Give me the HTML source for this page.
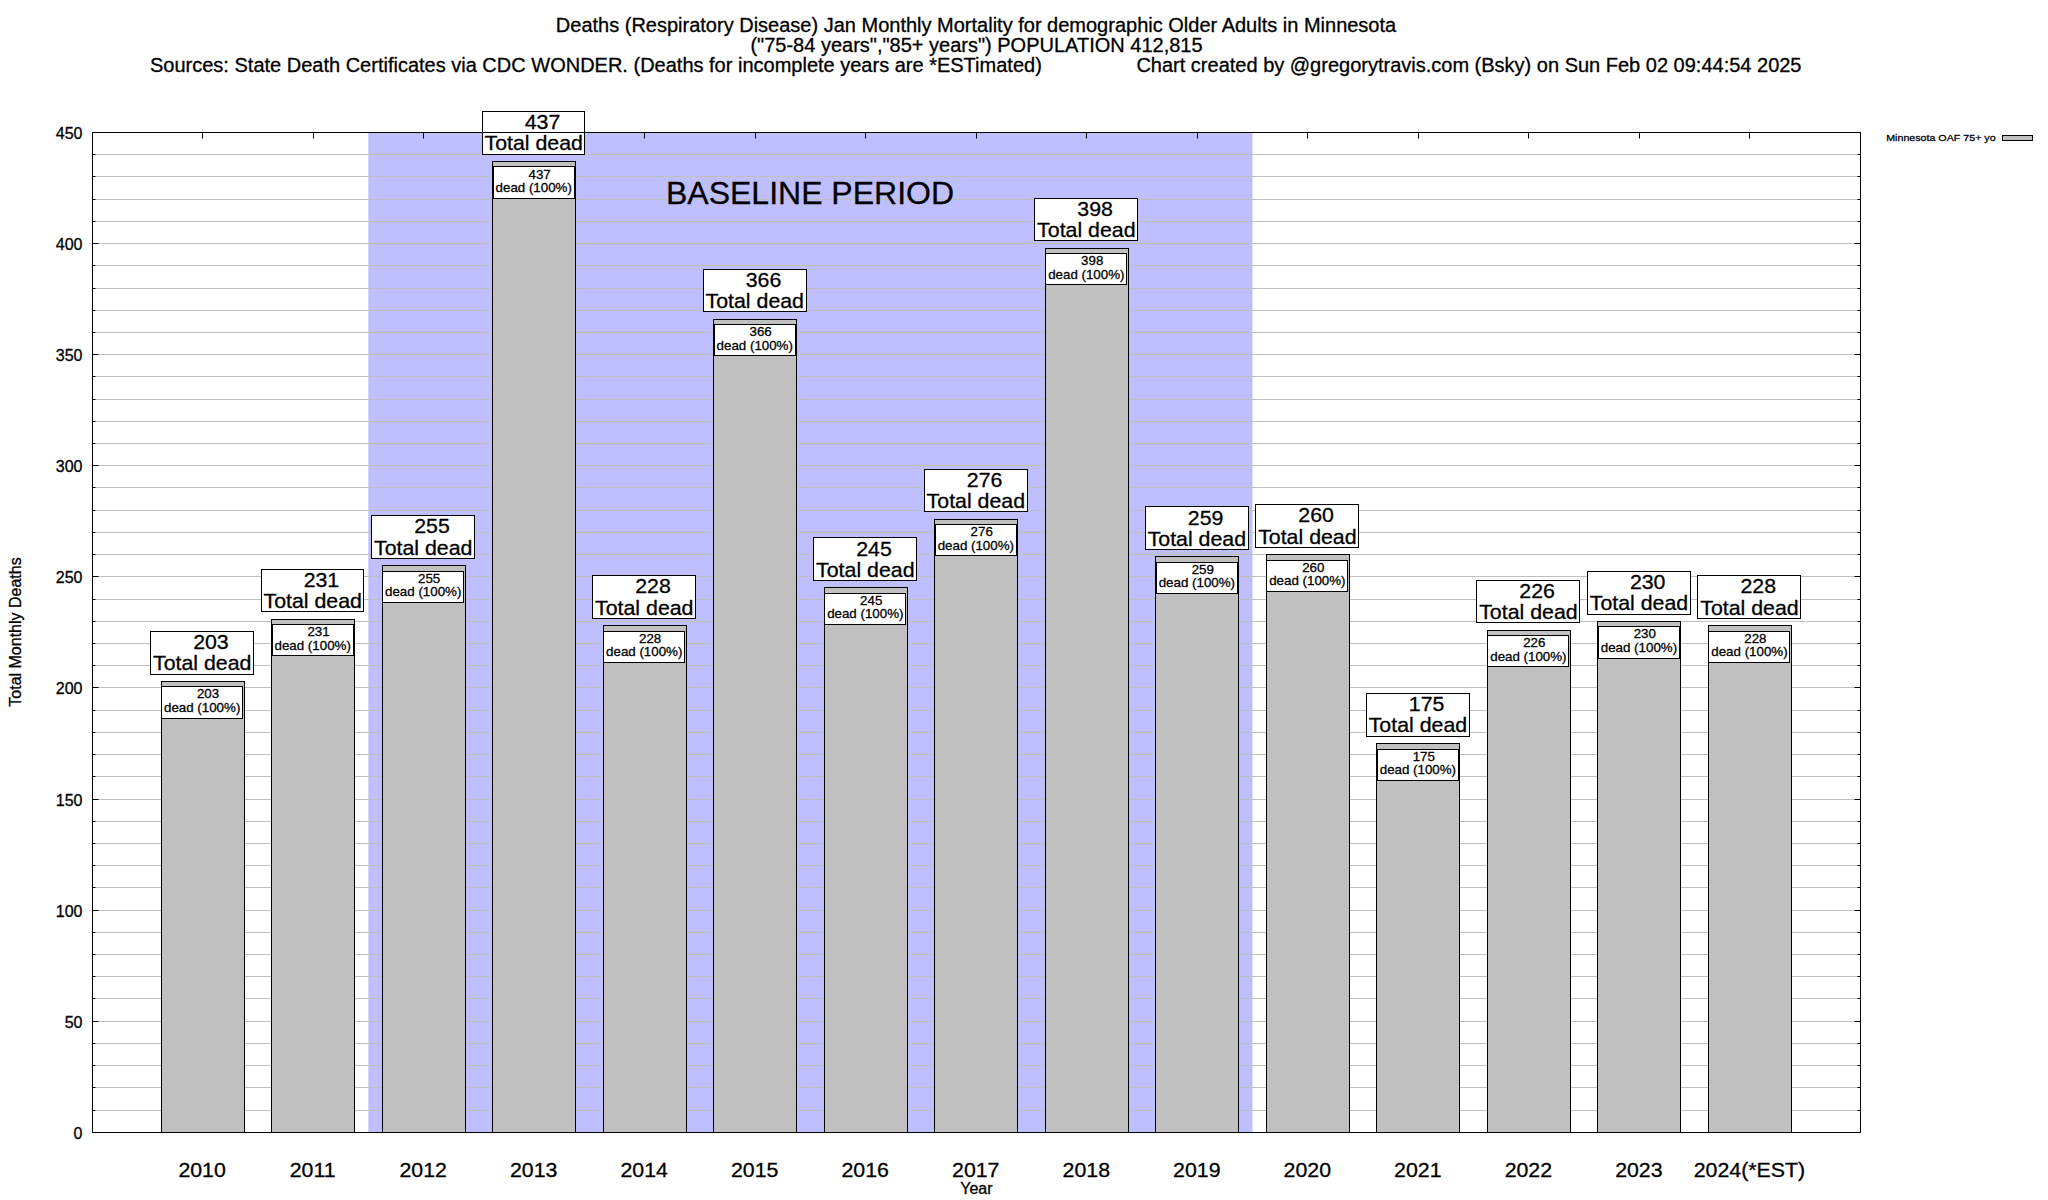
<!DOCTYPE html>
<html><head><meta charset="utf-8"><title>Deaths (Respiratory Disease) Jan Monthly Mortality</title>
<style>html,body{margin:0;padding:0;background:#fff;}body{width:2048px;height:1200px;overflow:hidden;}svg{display:block;}text{font-family:"Liberation Sans",Arial,Helvetica,sans-serif;fill:#000;stroke:#000;stroke-width:0.3px;stroke-linejoin:round;}</style></head><body>
<svg width="2048" height="1200" viewBox="0 0 2048 1200">
<rect x="0" y="0" width="2048" height="1200" fill="#fff"/>
<rect x="368.3" y="132.5" width="884.2" height="1000.0" fill="#bfbffe"/>
<path d="M92.5 1110.5H1860.5 M92.5 1087.5H1860.5 M92.5 1065.5H1860.5 M92.5 1043.5H1860.5 M92.5 1021.5H1860.5 M92.5 998.5H1860.5 M92.5 976.5H1860.5 M92.5 954.5H1860.5 M92.5 932.5H1860.5 M92.5 910.5H1860.5 M92.5 887.5H1860.5 M92.5 865.5H1860.5 M92.5 843.5H1860.5 M92.5 821.5H1860.5 M92.5 799.5H1860.5 M92.5 776.5H1860.5 M92.5 754.5H1860.5 M92.5 732.5H1860.5 M92.5 710.5H1860.5 M92.5 687.5H1860.5 M92.5 665.5H1860.5 M92.5 643.5H1860.5 M92.5 621.5H1860.5 M92.5 599.5H1860.5 M92.5 576.5H1860.5 M92.5 554.5H1860.5 M92.5 532.5H1860.5 M92.5 510.5H1860.5 M92.5 487.5H1860.5 M92.5 465.5H1860.5 M92.5 443.5H1860.5 M92.5 421.5H1860.5 M92.5 399.5H1860.5 M92.5 376.5H1860.5 M92.5 354.5H1860.5 M92.5 332.5H1860.5 M92.5 310.5H1860.5 M92.5 288.5H1860.5 M92.5 265.5H1860.5 M92.5 243.5H1860.5 M92.5 221.5H1860.5 M92.5 199.5H1860.5 M92.5 176.5H1860.5 M92.5 154.5H1860.5" stroke="#c0c0c0" stroke-width="1" fill="none"/>
<path d="M92.5 1132.5h6M1860.5 1132.5h-6 M92.5 1110.5h3M1860.5 1110.5h-3 M92.5 1087.5h3M1860.5 1087.5h-3 M92.5 1065.5h3M1860.5 1065.5h-3 M92.5 1043.5h3M1860.5 1043.5h-3 M92.5 1021.5h6M1860.5 1021.5h-6 M92.5 998.5h3M1860.5 998.5h-3 M92.5 976.5h3M1860.5 976.5h-3 M92.5 954.5h3M1860.5 954.5h-3 M92.5 932.5h3M1860.5 932.5h-3 M92.5 910.5h6M1860.5 910.5h-6 M92.5 887.5h3M1860.5 887.5h-3 M92.5 865.5h3M1860.5 865.5h-3 M92.5 843.5h3M1860.5 843.5h-3 M92.5 821.5h3M1860.5 821.5h-3 M92.5 799.5h6M1860.5 799.5h-6 M92.5 776.5h3M1860.5 776.5h-3 M92.5 754.5h3M1860.5 754.5h-3 M92.5 732.5h3M1860.5 732.5h-3 M92.5 710.5h3M1860.5 710.5h-3 M92.5 687.5h6M1860.5 687.5h-6 M92.5 665.5h3M1860.5 665.5h-3 M92.5 643.5h3M1860.5 643.5h-3 M92.5 621.5h3M1860.5 621.5h-3 M92.5 599.5h3M1860.5 599.5h-3 M92.5 576.5h6M1860.5 576.5h-6 M92.5 554.5h3M1860.5 554.5h-3 M92.5 532.5h3M1860.5 532.5h-3 M92.5 510.5h3M1860.5 510.5h-3 M92.5 487.5h3M1860.5 487.5h-3 M92.5 465.5h6M1860.5 465.5h-6 M92.5 443.5h3M1860.5 443.5h-3 M92.5 421.5h3M1860.5 421.5h-3 M92.5 399.5h3M1860.5 399.5h-3 M92.5 376.5h3M1860.5 376.5h-3 M92.5 354.5h6M1860.5 354.5h-6 M92.5 332.5h3M1860.5 332.5h-3 M92.5 310.5h3M1860.5 310.5h-3 M92.5 288.5h3M1860.5 288.5h-3 M92.5 265.5h3M1860.5 265.5h-3 M92.5 243.5h6M1860.5 243.5h-6 M92.5 221.5h3M1860.5 221.5h-3 M92.5 199.5h3M1860.5 199.5h-3 M92.5 176.5h3M1860.5 176.5h-3 M92.5 154.5h3M1860.5 154.5h-3 M92.5 132.5h6M1860.5 132.5h-6 M202.5 132.5v6 M313.5 132.5v6 M423.5 132.5v6 M534.5 132.5v6 M644.5 132.5v6 M755.5 132.5v6 M865.5 132.5v6 M976.5 132.5v6 M1086.5 132.5v6 M1197.5 132.5v6 M1307.5 132.5v6 M1418.5 132.5v6 M1528.5 132.5v6 M1639.5 132.5v6 M1749.5 132.5v6" stroke="#000" stroke-width="1" fill="none"/>
<rect x="161.5" y="681.5" width="83.0" height="451.0" fill="#c0c0c0" stroke="#000" stroke-width="1"/>
<rect x="271.5" y="619.5" width="83.0" height="513.0" fill="#c0c0c0" stroke="#000" stroke-width="1"/>
<rect x="382.5" y="565.5" width="83.0" height="567.0" fill="#c0c0c0" stroke="#000" stroke-width="1"/>
<rect x="492.5" y="161.5" width="83.0" height="971.0" fill="#c0c0c0" stroke="#000" stroke-width="1"/>
<rect x="603.5" y="625.5" width="83.0" height="507.0" fill="#c0c0c0" stroke="#000" stroke-width="1"/>
<rect x="713.5" y="319.5" width="83.0" height="813.0" fill="#c0c0c0" stroke="#000" stroke-width="1"/>
<rect x="824.5" y="587.5" width="83.0" height="545.0" fill="#c0c0c0" stroke="#000" stroke-width="1"/>
<rect x="934.5" y="519.5" width="83.0" height="613.0" fill="#c0c0c0" stroke="#000" stroke-width="1"/>
<rect x="1045.5" y="248.5" width="83.0" height="884.0" fill="#c0c0c0" stroke="#000" stroke-width="1"/>
<rect x="1155.5" y="556.5" width="83.0" height="576.0" fill="#c0c0c0" stroke="#000" stroke-width="1"/>
<rect x="1266.5" y="554.5" width="83.0" height="578.0" fill="#c0c0c0" stroke="#000" stroke-width="1"/>
<rect x="1376.5" y="743.5" width="83.0" height="389.0" fill="#c0c0c0" stroke="#000" stroke-width="1"/>
<rect x="1487.5" y="630.5" width="83.0" height="502.0" fill="#c0c0c0" stroke="#000" stroke-width="1"/>
<rect x="1597.5" y="621.5" width="83.0" height="511.0" fill="#c0c0c0" stroke="#000" stroke-width="1"/>
<rect x="1708.5" y="625.5" width="83.0" height="507.0" fill="#c0c0c0" stroke="#000" stroke-width="1"/>
<rect x="150.5" y="631.5" width="103.0" height="43.0" fill="#fff" stroke="#000" stroke-width="1"/>
<text transform="translate(210.92,648.97) scale(1,0.945)" font-size="21.33" text-anchor="middle">203</text>
<text transform="translate(202.17,670.27) scale(1,0.945)" font-size="21.33" text-anchor="middle">Total dead</text>
<rect x="161.5" y="686.5" width="81.0" height="32.0" fill="#fff" stroke="#000" stroke-width="1"/>
<text x="208.07" y="698.47" font-size="13.33" text-anchor="middle">203</text>
<text x="202.17" y="711.77" font-size="13.33" text-anchor="middle">dead (100%)</text>
<rect x="261.5" y="569.5" width="102.0" height="42.0" fill="#fff" stroke="#000" stroke-width="1"/>
<text transform="translate(321.44,586.76) scale(1,0.945)" font-size="21.33" text-anchor="middle">231</text>
<text transform="translate(312.69,608.06) scale(1,0.945)" font-size="21.33" text-anchor="middle">Total dead</text>
<rect x="272.5" y="624.5" width="81.0" height="31.0" fill="#fff" stroke="#000" stroke-width="1"/>
<text x="318.59" y="636.26" font-size="13.33" text-anchor="middle">231</text>
<text x="312.69" y="649.56" font-size="13.33" text-anchor="middle">dead (100%)</text>
<rect x="371.5" y="515.5" width="103.0" height="43.0" fill="#fff" stroke="#000" stroke-width="1"/>
<text transform="translate(431.96,533.44) scale(1,0.945)" font-size="21.33" text-anchor="middle">255</text>
<text transform="translate(423.21,554.74) scale(1,0.945)" font-size="21.33" text-anchor="middle">Total dead</text>
<rect x="382.5" y="571.5" width="81.0" height="31.0" fill="#fff" stroke="#000" stroke-width="1"/>
<text x="429.11" y="582.94" font-size="13.33" text-anchor="middle">255</text>
<text x="423.21" y="596.24" font-size="13.33" text-anchor="middle">dead (100%)</text>
<rect x="482.5" y="111.5" width="102.0" height="43.0" fill="#fff" stroke="#000" stroke-width="1"/>
<text transform="translate(542.48,129.08) scale(1,0.945)" font-size="21.33" text-anchor="middle">437</text>
<text transform="translate(533.73,150.38) scale(1,0.945)" font-size="21.33" text-anchor="middle">Total dead</text>
<rect x="493.5" y="166.5" width="81.0" height="32.0" fill="#fff" stroke="#000" stroke-width="1"/>
<text x="539.63" y="178.58" font-size="13.33" text-anchor="middle">437</text>
<text x="533.73" y="191.88" font-size="13.33" text-anchor="middle">dead (100%)</text>
<rect x="592.5" y="575.5" width="103.0" height="43.0" fill="#fff" stroke="#000" stroke-width="1"/>
<text transform="translate(653.00,593.43) scale(1,0.945)" font-size="21.33" text-anchor="middle">228</text>
<text transform="translate(644.25,614.73) scale(1,0.945)" font-size="21.33" text-anchor="middle">Total dead</text>
<rect x="603.5" y="631.5" width="81.0" height="31.0" fill="#fff" stroke="#000" stroke-width="1"/>
<text x="650.15" y="642.93" font-size="13.33" text-anchor="middle">228</text>
<text x="644.25" y="656.23" font-size="13.33" text-anchor="middle">dead (100%)</text>
<rect x="703.5" y="269.5" width="103.0" height="42.0" fill="#fff" stroke="#000" stroke-width="1"/>
<text transform="translate(763.52,286.83) scale(1,0.945)" font-size="21.33" text-anchor="middle">366</text>
<text transform="translate(754.77,308.13) scale(1,0.945)" font-size="21.33" text-anchor="middle">Total dead</text>
<rect x="714.5" y="324.5" width="81.0" height="31.0" fill="#fff" stroke="#000" stroke-width="1"/>
<text x="760.67" y="336.33" font-size="13.33" text-anchor="middle">366</text>
<text x="754.77" y="349.63" font-size="13.33" text-anchor="middle">dead (100%)</text>
<rect x="813.5" y="537.5" width="103.0" height="43.0" fill="#fff" stroke="#000" stroke-width="1"/>
<text transform="translate(874.04,555.66) scale(1,0.945)" font-size="21.33" text-anchor="middle">245</text>
<text transform="translate(865.29,576.96) scale(1,0.945)" font-size="21.33" text-anchor="middle">Total dead</text>
<rect x="824.5" y="593.5" width="81.0" height="31.0" fill="#fff" stroke="#000" stroke-width="1"/>
<text x="871.19" y="605.16" font-size="13.33" text-anchor="middle">245</text>
<text x="865.29" y="618.46" font-size="13.33" text-anchor="middle">dead (100%)</text>
<rect x="924.5" y="469.5" width="103.0" height="42.0" fill="#fff" stroke="#000" stroke-width="1"/>
<text transform="translate(984.56,486.78) scale(1,0.945)" font-size="21.33" text-anchor="middle">276</text>
<text transform="translate(975.81,508.08) scale(1,0.945)" font-size="21.33" text-anchor="middle">Total dead</text>
<rect x="935.5" y="524.5" width="81.0" height="31.0" fill="#fff" stroke="#000" stroke-width="1"/>
<text x="981.71" y="536.28" font-size="13.33" text-anchor="middle">276</text>
<text x="975.81" y="549.58" font-size="13.33" text-anchor="middle">dead (100%)</text>
<rect x="1034.5" y="198.5" width="103.0" height="42.0" fill="#fff" stroke="#000" stroke-width="1"/>
<text transform="translate(1095.08,215.73) scale(1,0.945)" font-size="21.33" text-anchor="middle">398</text>
<text transform="translate(1086.33,237.03) scale(1,0.945)" font-size="21.33" text-anchor="middle">Total dead</text>
<rect x="1045.5" y="253.5" width="81.0" height="31.0" fill="#fff" stroke="#000" stroke-width="1"/>
<text x="1092.23" y="265.23" font-size="13.33" text-anchor="middle">398</text>
<text x="1086.33" y="278.53" font-size="13.33" text-anchor="middle">dead (100%)</text>
<rect x="1145.5" y="506.5" width="103.0" height="43.0" fill="#fff" stroke="#000" stroke-width="1"/>
<text transform="translate(1205.60,524.55) scale(1,0.945)" font-size="21.33" text-anchor="middle">259</text>
<text transform="translate(1196.85,545.85) scale(1,0.945)" font-size="21.33" text-anchor="middle">Total dead</text>
<rect x="1156.5" y="562.5" width="81.0" height="31.0" fill="#fff" stroke="#000" stroke-width="1"/>
<text x="1202.75" y="574.05" font-size="13.33" text-anchor="middle">259</text>
<text x="1196.85" y="587.35" font-size="13.33" text-anchor="middle">dead (100%)</text>
<rect x="1255.5" y="504.5" width="103.0" height="43.0" fill="#fff" stroke="#000" stroke-width="1"/>
<text transform="translate(1316.12,522.33) scale(1,0.945)" font-size="21.33" text-anchor="middle">260</text>
<text transform="translate(1307.37,543.63) scale(1,0.945)" font-size="21.33" text-anchor="middle">Total dead</text>
<rect x="1266.5" y="560.5" width="81.0" height="31.0" fill="#fff" stroke="#000" stroke-width="1"/>
<text x="1313.27" y="571.83" font-size="13.33" text-anchor="middle">260</text>
<text x="1307.37" y="585.13" font-size="13.33" text-anchor="middle">dead (100%)</text>
<rect x="1366.5" y="693.5" width="103.0" height="43.0" fill="#fff" stroke="#000" stroke-width="1"/>
<text transform="translate(1426.64,711.18) scale(1,0.945)" font-size="21.33" text-anchor="middle">175</text>
<text transform="translate(1417.89,732.48) scale(1,0.945)" font-size="21.33" text-anchor="middle">Total dead</text>
<rect x="1377.5" y="749.5" width="81.0" height="31.0" fill="#fff" stroke="#000" stroke-width="1"/>
<text x="1423.79" y="760.68" font-size="13.33" text-anchor="middle">175</text>
<text x="1417.89" y="773.98" font-size="13.33" text-anchor="middle">dead (100%)</text>
<rect x="1476.5" y="580.5" width="103.0" height="42.0" fill="#fff" stroke="#000" stroke-width="1"/>
<text transform="translate(1537.16,597.87) scale(1,0.945)" font-size="21.33" text-anchor="middle">226</text>
<text transform="translate(1528.41,619.17) scale(1,0.945)" font-size="21.33" text-anchor="middle">Total dead</text>
<rect x="1487.5" y="635.5" width="81.0" height="31.0" fill="#fff" stroke="#000" stroke-width="1"/>
<text x="1534.31" y="647.37" font-size="13.33" text-anchor="middle">226</text>
<text x="1528.41" y="660.67" font-size="13.33" text-anchor="middle">dead (100%)</text>
<rect x="1587.5" y="571.5" width="103.0" height="43.0" fill="#fff" stroke="#000" stroke-width="1"/>
<text transform="translate(1647.68,588.99) scale(1,0.945)" font-size="21.33" text-anchor="middle">230</text>
<text transform="translate(1638.93,610.29) scale(1,0.945)" font-size="21.33" text-anchor="middle">Total dead</text>
<rect x="1598.5" y="626.5" width="81.0" height="32.0" fill="#fff" stroke="#000" stroke-width="1"/>
<text x="1644.83" y="638.49" font-size="13.33" text-anchor="middle">230</text>
<text x="1638.93" y="651.79" font-size="13.33" text-anchor="middle">dead (100%)</text>
<rect x="1697.5" y="575.5" width="103.0" height="43.0" fill="#fff" stroke="#000" stroke-width="1"/>
<text transform="translate(1758.20,593.43) scale(1,0.945)" font-size="21.33" text-anchor="middle">228</text>
<text transform="translate(1749.45,614.73) scale(1,0.945)" font-size="21.33" text-anchor="middle">Total dead</text>
<rect x="1708.5" y="631.5" width="81.0" height="31.0" fill="#fff" stroke="#000" stroke-width="1"/>
<text x="1755.35" y="642.93" font-size="13.33" text-anchor="middle">228</text>
<text x="1749.45" y="656.23" font-size="13.33" text-anchor="middle">dead (100%)</text>
<rect x="92.5" y="132.5" width="1768.0" height="1000.0" fill="none" stroke="#000" stroke-width="1"/>
<text x="82.5" y="1138.7" font-size="16" text-anchor="end">0</text>
<text x="82.5" y="1027.7" font-size="16" text-anchor="end">50</text>
<text x="82.5" y="916.7" font-size="16" text-anchor="end">100</text>
<text x="82.5" y="805.7" font-size="16" text-anchor="end">150</text>
<text x="82.5" y="693.7" font-size="16" text-anchor="end">200</text>
<text x="82.5" y="582.7" font-size="16" text-anchor="end">250</text>
<text x="82.5" y="471.7" font-size="16" text-anchor="end">300</text>
<text x="82.5" y="360.7" font-size="16" text-anchor="end">350</text>
<text x="82.5" y="249.7" font-size="16" text-anchor="end">400</text>
<text x="82.5" y="138.7" font-size="16" text-anchor="end">450</text>
<text transform="translate(202.12,1177.1) scale(1,0.965)" font-size="21.33" text-anchor="middle">2010</text>
<text transform="translate(312.64,1177.1) scale(1,0.965)" font-size="21.33" text-anchor="middle">2011</text>
<text transform="translate(423.16,1177.1) scale(1,0.965)" font-size="21.33" text-anchor="middle">2012</text>
<text transform="translate(533.68,1177.1) scale(1,0.965)" font-size="21.33" text-anchor="middle">2013</text>
<text transform="translate(644.20,1177.1) scale(1,0.965)" font-size="21.33" text-anchor="middle">2014</text>
<text transform="translate(754.72,1177.1) scale(1,0.965)" font-size="21.33" text-anchor="middle">2015</text>
<text transform="translate(865.24,1177.1) scale(1,0.965)" font-size="21.33" text-anchor="middle">2016</text>
<text transform="translate(975.76,1177.1) scale(1,0.965)" font-size="21.33" text-anchor="middle">2017</text>
<text transform="translate(1086.28,1177.1) scale(1,0.965)" font-size="21.33" text-anchor="middle">2018</text>
<text transform="translate(1196.80,1177.1) scale(1,0.965)" font-size="21.33" text-anchor="middle">2019</text>
<text transform="translate(1307.32,1177.1) scale(1,0.965)" font-size="21.33" text-anchor="middle">2020</text>
<text transform="translate(1417.84,1177.1) scale(1,0.965)" font-size="21.33" text-anchor="middle">2021</text>
<text transform="translate(1528.36,1177.1) scale(1,0.965)" font-size="21.33" text-anchor="middle">2022</text>
<text transform="translate(1638.88,1177.1) scale(1,0.965)" font-size="21.33" text-anchor="middle">2023</text>
<text transform="translate(1749.40,1177.1) scale(1,0.965)" font-size="21.33" text-anchor="middle">2024(*EST)</text>
<text x="976" y="31.5" font-size="20" text-anchor="middle">Deaths (Respiratory Disease) Jan Monthly Mortality for demographic Older Adults in Minnesota</text>
<text x="976.5" y="51.5" font-size="20" text-anchor="middle">("75-84 years","85+ years") POPULATION 412,815</text>
<text x="150" y="71.5" font-size="20">Sources: State Death Certificates via CDC WONDER. (Deaths for incomplete years are *ESTimated)</text>
<text x="1801.5" y="71.5" font-size="20" text-anchor="end">Chart created by @gregorytravis.com (Bsky) on Sun Feb 02 09:44:54 2025</text>
<text x="810" y="204" font-size="32" text-anchor="middle">BASELINE PERIOD</text>
<text x="976.4" y="1193.8" font-size="16" text-anchor="middle">Year</text>
<text transform="translate(21,632) rotate(-90)" font-size="16" text-anchor="middle">Total Monthly Deaths</text>
<text transform="translate(1995.6,141) scale(1,0.92)" font-size="10.67" text-anchor="end">Minnesota OAF 75+ yo</text>
<rect x="2002.5" y="135.5" width="30" height="5" fill="#c0c0c0" stroke="#000" stroke-width="1"/>
</svg></body></html>
